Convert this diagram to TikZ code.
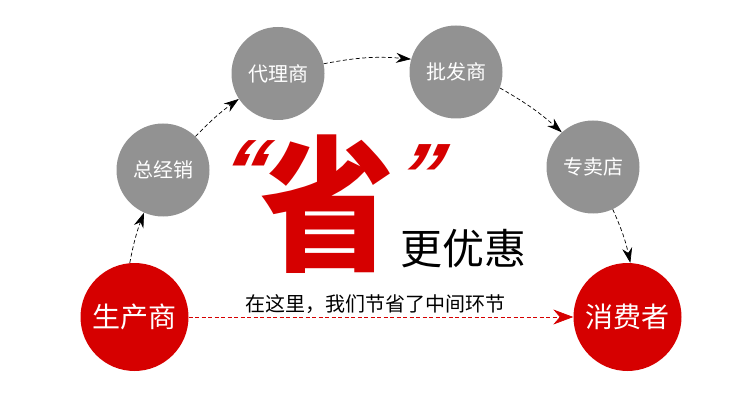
\documentclass[tikz,border=0pt]{standalone}
\usepackage{fontspec}
\setmainfont{Noto Sans CJK SC}
\newfontfamily\quotefont{Liberation Sans}
\usetikzlibrary{arrows.meta}
\definecolor{brandred}{RGB}{214,0,0}
\definecolor{stagegray}{RGB}{146,146,146}
\tikzset{
  stage/.style={circle, fill=stagegray, text=white, minimum size=93pt, inner sep=0pt, font=\fontsize{20}{20}\selectfont},
  endpoint/.style={circle, fill=brandred, text=white, minimum size=108pt, inner sep=0pt, font=\fontsize{28}{28}\selectfont},
  flow/.style={dash pattern=on 4pt off 2.5pt, line width=0.7pt, -{Stealth[length=15pt,width=10pt]}},
  mark quote/.style={text=brandred, inner sep=0pt, xslant=0.25, font=\quotefont\fontsize{90}{90}\bfseries\itshape},
}
\begin{document}
\begin{tikzpicture}[x=1pt,y=1pt]
  \useasboundingbox (0,0) rectangle (750,405);
  \node[endpoint] (maker) at (134.5,88) {生产商};
  \node[stage] (dist) at (163,235) {总经销};
  \node[stage] (agent) at (278,331.5) {代理商};
  \node[stage] (whole) at (456,333) {批发商};
  \node[stage] (shop) at (593,238) {专卖店};
  \node[endpoint] (buyer) at (627.5,88) {消费者};
  \draw[flow] (maker.95) to[bend left=5] (dist.246);
  \draw[flow] (dist.46) to[bend left=5] (agent.213);
  \draw[flow] (agent.12) to[bend left=8] (whole.164);
  \draw[flow] (whole.340) to[bend left=6] (shop.132);
  \draw[flow] (shop.295) to[bend left=6] (buyer.87);
  \draw[flow, brandred, -{Stealth[length=20pt,width=15pt]}] (maker.east) -- (buyer.west);
  \node[font=\fontsize{20}{20}\selectfont] (saving) at (375,101) {在这里，我们节省了中间环节};
  \node[text=brandred, inner sep=0pt, font=\fontsize{146}{146}\bfseries, xscale=0.92] (sheng) at (328,201) {省};
  \node[mark quote] (lq) at (246,233) {“};
  \node[mark quote] (rq) at (421,229) {”};
  \node[font=\fontsize{42}{42}\selectfont] (better) at (463,156) {更优惠};
\end{tikzpicture}
\end{document}
